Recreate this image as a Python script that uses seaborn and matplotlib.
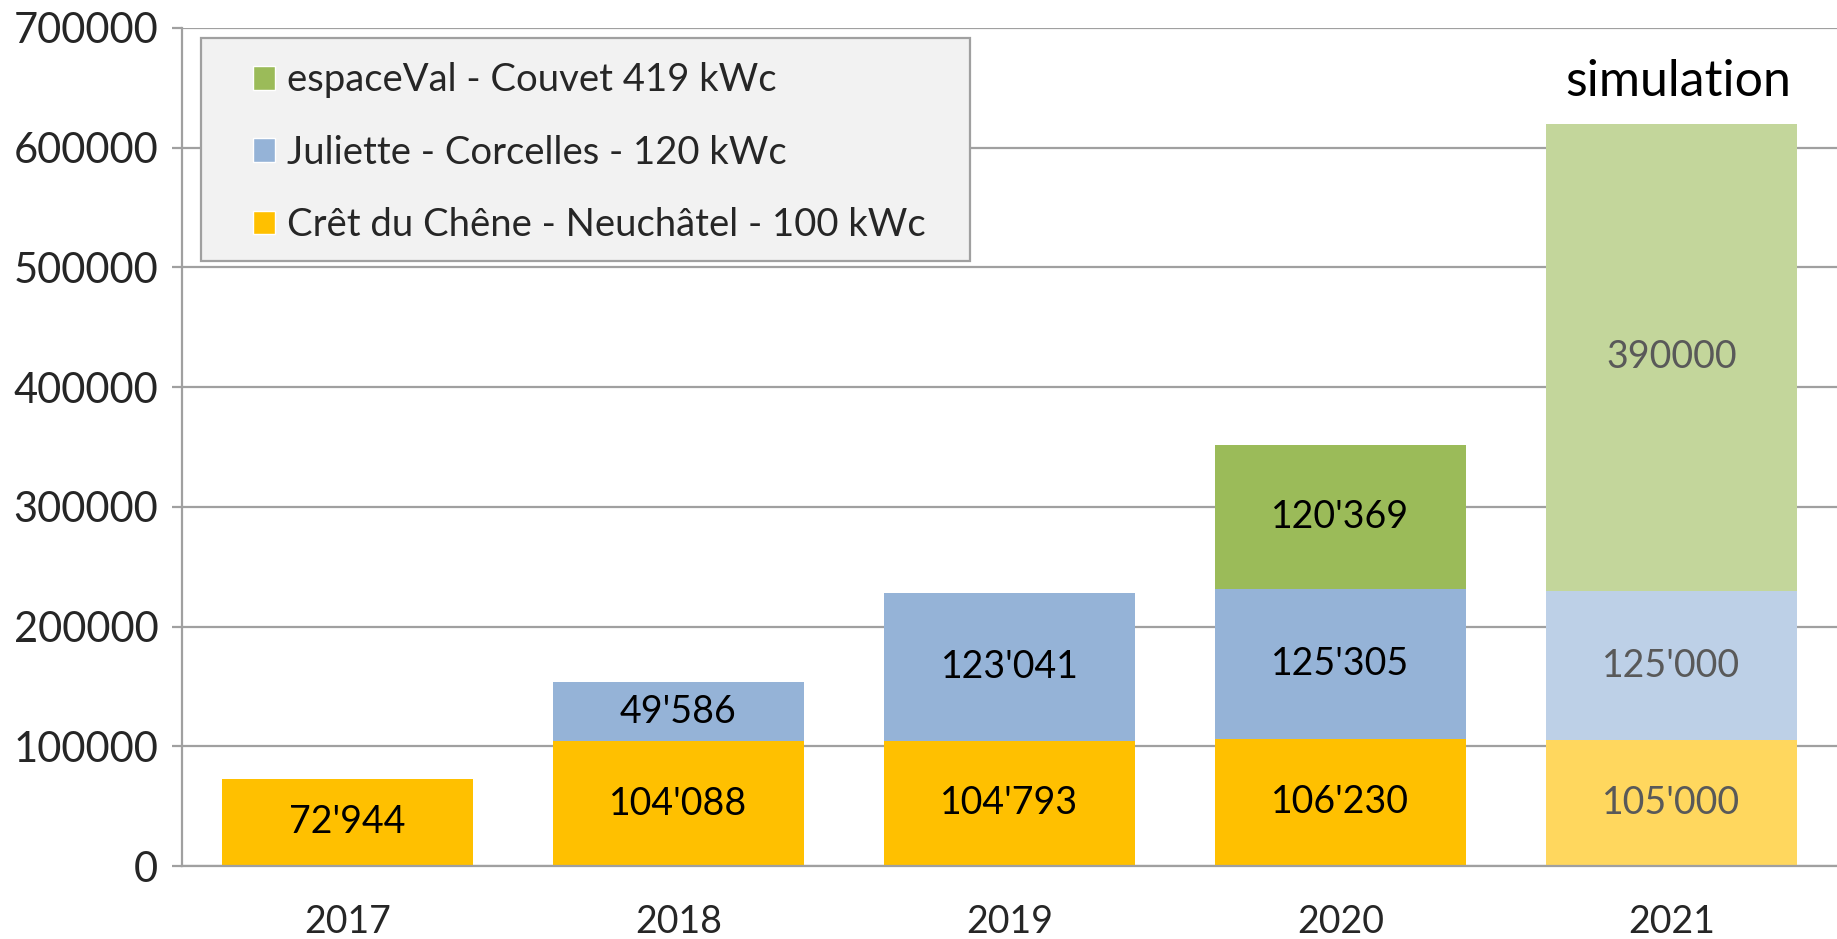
import matplotlib
matplotlib.use("Agg")
import matplotlib.pyplot as plt
from matplotlib.patches import Patch, Rectangle
import seaborn as sns
import pandas as pd
import numpy as np

years = ["2017", "2018", "2019", "2020", "2021"]
cret = [72944, 104088, 104793, 106230, 105000]
juliette = [0, 49586, 123041, 125305, 125000]
espaceval = [0, 0, 0, 120369, 390000]
cret_labels = ["72'944", "104'088", "104'793", "106'230", "105'000"]
juliette_labels = ["", "49'586", "123'041", "125'305", "125'000"]
espaceval_labels = ["", "", "", "120'369", "390000"]
series_names = ["espaceVal - Couvet 419 kWc", "Juliette - Corcelles - 120 kWc",
                "Crêt du Chêne - Neuchâtel - 100 kWc"]
yticks = [0, 100000, 200000, 300000, 400000, 500000, 600000, 700000]

col_orange, col_orange_l = "#FFC000", "#FFD75E"
col_blue, col_blue_l = "#95B3D7", "#BDD0E7"
col_green, col_green_l = "#9BBB59", "#C3D69B"

sns.set_theme(style="white")
plt.rcParams["font.family"] = ["Lato", "DejaVu Sans"]

fig = plt.figure(figsize=(18.37, 9.39), dpi=100)
ax = fig.add_axes([0.099, 0.0777, 0.901, 0.8925])

df = pd.DataFrame({"year": years, "cret": cret, "jul": juliette, "esp": espaceval})
df["c1"] = df["cret"]
df["c2"] = df["cret"] + df["jul"]
df["c3"] = df["c2"] + df["esp"]

def pal(normal, light):
    return {y: (light if y == "2021" else normal) for y in years}

for col, n, l in [("c3", col_green, col_green_l), ("c2", col_blue, col_blue_l),
                  ("c1", col_orange, col_orange_l)]:
    sns.barplot(data=df, x="year", y=col, hue="year", palette=pal(n, l),
                width=0.756, legend=False, ax=ax, saturation=1,
                edgecolor="none", zorder=2)

fs_bar = 27
for i, y in enumerate(years):
    tc = "#595959" if y == "2021" else "black"
    bottoms = [0, cret[i], cret[i] + juliette[i]]
    for b, v, lab in zip(bottoms, [cret[i], juliette[i], espaceval[i]],
                         [cret_labels[i], juliette_labels[i], espaceval_labels[i]]):
        if v > 0 and lab:
            ax.text(i, b + v / 2, lab, ha="center", va="center", fontsize=fs_bar,
                    color=tc, zorder=5)

ax.text(4.02, 655000, "simulation", ha="center", va="center", fontsize=36, color="black")

ax.set_xlim(-0.5, 4.5)
ax.set_ylim(0, 700000)
ax.set_yticks(yticks)
ax.set_yticklabels([str(v) for v in yticks])
ax.set_xlabel("")
ax.set_ylabel("")
ax.grid(axis="y", color="#A0A0A0", linewidth=1.6, zorder=0)
ax.set_axisbelow(True)
for s in ["top", "right"]:
    ax.spines[s].set_visible(False)
for s in ["left", "bottom"]:
    ax.spines[s].set_color("#A0A0A0")
    ax.spines[s].set_linewidth(1.6)
ax.set_xticks(np.arange(-0.5, 5.0, 1.0), minor=True)
ax.tick_params(axis="x", which="major", length=0, pad=27, labelsize=27)
ax.tick_params(axis="x", which="minor", length=7, width=1.6, color="#A0A0A0", direction="out")
ax.tick_params(axis="y", which="major", length=7, width=1.6, color="#A0A0A0",
               direction="out", pad=10, labelsize=30, left=True)

# legend frame
ax.add_patch(Rectangle((0.0118, 0.7224), 0.476 - 0.0118, 0.988 - 0.7224,
                       transform=ax.transAxes, facecolor="#F2F2F2",
                       edgecolor="#A0A0A0", linewidth=1.6, zorder=9, clip_on=False))
handles = [Patch(facecolor=col_green), Patch(facecolor=col_blue), Patch(facecolor=col_orange)]
leg = ax.legend(handles, series_names, loc="upper left", bbox_to_anchor=(0.0429, 0.959),
                fontsize=27.5, frameon=False, handlelength=0.58, handleheight=0.58,
                handletextpad=0.31, labelspacing=0.95, borderpad=0, borderaxespad=0)
leg.set_zorder(10)

fig.savefig("out.png", dpi=100)
